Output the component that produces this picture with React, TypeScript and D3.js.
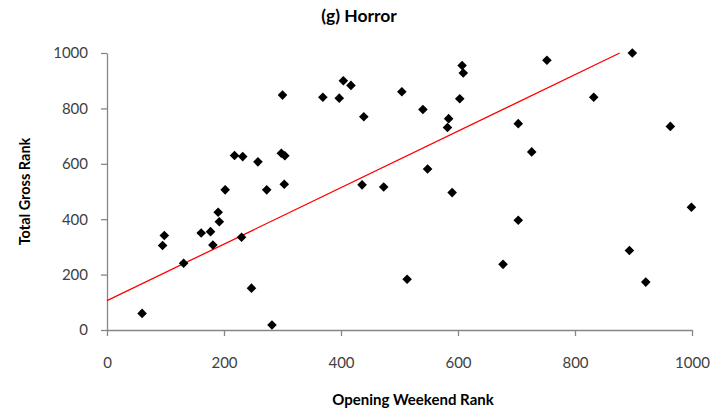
import { useEffect, useRef } from "react";
import * as d3 from "d3";

const openingRank = [
  60, 95, 98, 131, 161, 177, 181, 190, 192, 230, 247, 282,
  202, 218, 232, 258, 273, 300, 298, 304, 303, 369, 397, 404, 417,
  439, 504, 540, 584, 582, 603, 607, 609, 752, 703, 726, 832, 898, 963, 999,
  548, 436, 473, 590, 513, 677, 703, 893, 921,
];
const grossRank = [
  60, 305, 341, 241, 350, 355, 307, 425, 391, 335, 151, 18,
  506, 630, 626, 607, 506, 848, 638, 629, 526, 840, 837, 900, 883,
  770, 860, 796, 763, 731, 835, 955, 928, 974, 745, 643, 840, 1000, 735, 443,
  581, 524, 516, 496, 183, 237, 396, 287, 173,
];
const xTicks = [0, 200, 400, 600, 800, 1000];
const yTicks = [0, 200, 400, 600, 800, 1000];
const trendIntercept = 106;
const trendSlope = 1.02;

const W = 713;
const H = 415;
const margin = { top: 53, right: 21, bottom: 85, left: 107 };

const App = () => {
  const svgRef = useRef<SVGSVGElement>(null);

  useEffect(() => {
    const svg = d3.select(svgRef.current);
    svg.selectAll("*").remove();
    const innerW = W - margin.left - margin.right;
    const innerH = H - margin.top - margin.bottom;
    const font = "Lato, 'Open Sans', sans-serif";

    const x = d3.scaleLinear().domain([0, 1000]).range([0, innerW]);
    const y = d3.scaleLinear().domain([0, 1000]).range([innerH, 0]);

    const g = svg
      .append("g")
      .attr("transform", `translate(${margin.left},${margin.top})`);

    const xAxis = g
      .append("g")
      .attr("transform", `translate(0,${innerH})`)
      .call(
        d3
          .axisBottom(x)
          .tickValues(xTicks)
          .tickFormat(d3.format("d"))
          .tickSize(6)
          .tickSizeOuter(0)
          .tickPadding(21)
      );
    const yAxis = g
      .append("g")
      .call(
        d3
          .axisLeft(y)
          .tickValues(yTicks)
          .tickFormat(d3.format("d"))
          .tickSize(6)
          .tickSizeOuter(0)
          .tickPadding(13)
      );

    [xAxis, yAxis].forEach((a) => {
      a.selectAll("path, line").attr("stroke", "#868686").attr("stroke-width", 1.3);
      a.selectAll("text")
        .attr("fill", "#404040")
        .style("font-family", font)
        .style("font-size", "15px");
    });

    // trend line
    const xEnd = (1000 - trendIntercept) / trendSlope;
    g.append("line")
      .attr("x1", x(0))
      .attr("y1", y(trendIntercept))
      .attr("x2", x(xEnd))
      .attr("y2", y(trendIntercept + trendSlope * xEnd))
      .attr("stroke", "#ff0000")
      .attr("stroke-width", 1.3);

    const r = 4.8;
    g.selectAll("path.pt")
      .data(openingRank.map((v, i) => [v, grossRank[i]]))
      .enter()
      .append("path")
      .attr("class", "pt")
      .attr("d", `M0,${-r}L${r},0L0,${r}L${-r},0Z`)
      .attr("transform", (d) => `translate(${x(d[0])},${y(d[1])})`)
      .attr("fill", "#000");

    svg
      .append("text")
      .attr("x", 359)
      .attr("y", 22)
      .attr("text-anchor", "middle")
      .style("font-family", font)
      .style("font-size", "17.5px")
      .style("font-weight", "bold")
      .text("(g) Horror");

    svg
      .append("text")
      .attr("x", 413)
      .attr("y", 405)
      .attr("text-anchor", "middle")
      .style("font-family", font)
      .style("font-size", "15px")
      .style("font-weight", "bold")
      .text("Opening Weekend Rank");

    svg
      .append("text")
      .attr("transform", `translate(30,${margin.top + innerH / 2}) rotate(-90)`)
      .attr("text-anchor", "middle")
      .style("font-family", font)
      .style("font-size", "14.5px")
      .style("font-weight", "bold")
      .text("Total Gross Rank");
  }, []);

  return (
    <svg
      ref={svgRef}
      width={W}
      height={H}
      style={{ position: "absolute", left: 0, top: 0, background: "#fff" }}
    />
  );
};

export default App;
